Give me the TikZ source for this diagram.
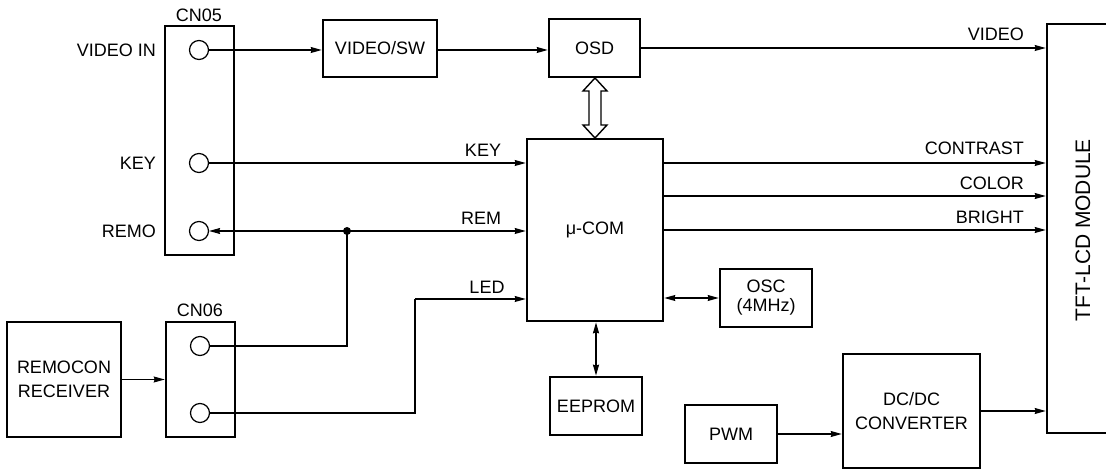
\documentclass[tikz,border=0pt]{standalone}
\usepackage{fontspec}
\setmainfont{Liberation Sans}
\usetikzlibrary{arrows.meta}
\begin{document}
\begin{tikzpicture}[x=1pt,y=-1pt,
  font=\fontsize{18}{24}\selectfont,
  box/.style={draw,line width=2.6pt,inner sep=0pt,align=center},
  pin/.style={draw,circle,line width=1.2pt,inner sep=0pt,minimum size=19pt},
  lbl/.style={inner sep=0pt},
  wire/.style={line width=1.1pt},
  arr/.style={wire,-{Stealth[length=11pt,width=6pt,inset=1pt]}},
  darr/.style={wire,{Stealth[length=11pt,width=6pt,inset=1pt]}-{Stealth[length=11pt,width=6pt,inset=1pt]}}
]
\clip (0,0) rectangle (1106,470);
\fill[white] (0,0) rectangle (1106,470);

% connectors boxes
\node[box,minimum width=69pt,minimum height=229pt] (cn05) at (199.5,140.5) {};
\node[lbl] (cn05l) at (199,15) {CN05};
\node[pin] (pvid) at (199,50) {};
\node[pin] (pkey) at (199,163) {};
\node[pin] (prem) at (199,231) {};
\node[lbl,anchor=east] (lvid) at (156,50) {VIDEO IN};
\node[lbl,anchor=east] (lkey) at (156,163) {KEY};
\node[lbl,anchor=east] (lrem) at (156,231) {REMO};

\node[box,minimum width=69pt,minimum height=115pt] (cn06) at (200.5,379.5) {};
\node[lbl] (cn06l) at (200,310) {CN06};
\node[pin] (pa) at (200,346) {};
\node[pin] (pb) at (200,413) {};

\node[box,minimum width=114pt,minimum height=115pt] (rr) at (64,379.5) {REMOCON\\RECEIVER};

% blocks
\node[box,minimum width=114pt,minimum height=57pt] (vsw) at (380,48.5) {VIDEO/SW};
\node[box,minimum width=91pt,minimum height=58pt] (osd) at (594.5,48) {OSD};
\node[box,minimum width=136pt,minimum height=182pt] (muc) at (595,230) {μ-COM};
\node[box,minimum width=92pt,minimum height=58pt] (osc) at (766,298) {OSC\\[-5pt](4MHz)};
\node[box,minimum width=92pt,minimum height=58pt] (ee) at (596,406) {EEPROM};
\node[box,minimum width=92pt,minimum height=58pt] (pwm) at (731,434) {PWM};
\node[box,minimum width=137pt,minimum height=114pt] (dc) at (911.5,411) {DC/DC\\CONVERTER};
\node[box,minimum width=70pt,minimum height=409pt] (tft) at (1082,228.5) {};
\node[lbl,rotate=90,font=\fontsize{21}{24}\selectfont] (tftl) at (1083,230) {TFT-LCD MODULE};

% signal labels
\node[lbl] (kkey) at (483,150) {KEY};
\node[lbl] (krem) at (481,218) {REM};
\node[lbl] (kled) at (487,287) {LED};
\node[lbl,anchor=east] (kvideo) at (1024,34) {VIDEO};
\node[lbl,anchor=east] (kcon) at (1024,148) {CONTRAST};
\node[lbl,anchor=east] (kcol) at (1024,183) {COLOR};
\node[lbl,anchor=east] (kbri) at (1024,217) {BRIGHT};

% wires
\draw[arr] (pvid.east) -- (vsw.west |- pvid);
\draw[arr] (vsw.east |- pvid) -- (osd.west |- pvid);
\draw[arr] (osd.east) -- (tft.west |- osd);
\draw[arr] (pkey.east) -- (muc.west |- pkey);

\coordinate (junc) at (347,231);
\draw[wire] (pa.east) -| (junc);
\draw[arr] (junc) -- (prem.east);
\draw[arr] (junc) -- (muc.west |- junc);
\fill (junc) circle (4pt);

\coordinate (ledk) at (415,299);
\draw[wire] (pb.east) -| (ledk);
\draw[arr] (ledk) -- (muc.west |- ledk);

\draw[arr] (rr.east) -- (cn06.west |- rr.east);

\draw[arr] ([yshift=67pt]muc.east) -- (tft.west |- pkey);
\draw[arr] ([yshift=34pt]muc.east) -- ([yshift=34pt]muc.east -| tft.west);
\draw[arr] (muc.east) -- (muc.east -| tft.west);

\draw[darr] (muc.east |- osc.west) -- (osc.west);
\draw[darr,line width=1.8pt] (ee.north) -- (ee.north |- muc.south);
\draw[arr] (pwm.east) -- (pwm.east -| dc.west);
\draw[arr] (dc.east) -- (dc.east -| tft.west);

% bus arrow OSD <-> mu-COM
\draw[line width=1.4pt,fill=white] (595,78) -- (607,91) -- (601,91) -- (601,125) -- (607,125) -- (595,138)
  -- (583,125) -- (589,125) -- (589,91) -- (583,91) -- cycle;
\end{tikzpicture}
\end{document}
